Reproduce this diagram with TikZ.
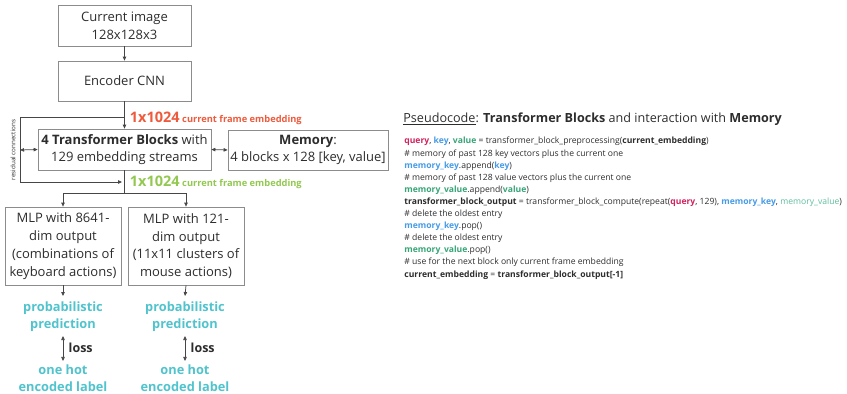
\documentclass[tikz,border=0pt]{standalone}
\usepackage{fontspec}
\setmainfont{Open Sans}
\usetikzlibrary{arrows.meta}

\definecolor{boxgray}{RGB}{140,140,140}
\definecolor{linegray}{RGB}{70,70,70}
\definecolor{txtgray}{RGB}{45,45,45}
\definecolor{embred}{RGB}{238,90,60}
\definecolor{embgreen}{RGB}{146,200,80}
\definecolor{predteal}{RGB}{80,195,205}
\definecolor{qred}{RGB}{210,35,95}
\definecolor{kblue}{RGB}{70,155,230}
\definecolor{vgreen}{RGB}{55,165,120}
\definecolor{vlight}{RGB}{95,190,155}

\tikzset{every picture/.style={line width=0.75pt}}

\begin{document}
\begin{tikzpicture}[x=1pt,y=1pt,yscale=-1,xscale=1,
	box/.style={draw=boxgray,fill=white,align=center,inner sep=0pt,text=txtgray,font=\fontsize{13}{17.8}\selectfont},
	conn/.style={draw=linegray,-{Triangle[length=4pt,width=3.5pt]}},
	biconn/.style={draw=linegray,{Triangle[length=4pt,width=3.5pt]}-{Triangle[length=4pt,width=3.5pt]}},
	pred/.style={align=center,inner sep=0pt,text=predteal,font=\fontsize{12.8}{17.5}\selectfont\bfseries}]
		\useasboundingbox (0,0) rectangle (847,394);
		
		%Shape: Rectangle [id:img] 
		\node (img) [box,minimum width=133,minimum height=41] at (124.5,25.5) {Current image\\128x128x3};
		%Shape: Rectangle [id:enc] 
		\node (enc) [box,minimum width=133,minimum height=40] at (124.5,81) {Encoder CNN};
		%Shape: Rectangle [id:trf] 
		\node (trf) [box,minimum width=173,minimum height=41] at (124.5,149.5) {\textbf{4 Transformer Blocks} with\\129 embedding streams};
		%Shape: Rectangle [id:mem] 
		\node (mem) [box,minimum width=160,minimum height=40] at (308,150) {\textbf{Memory}:\\4 blocks x 128 [key, value]};
		%Shape: Rectangle [id:mlpkey] 
		\node (mlpkey) [box,minimum width=116,minimum height=78] at (63,246) {MLP with 8641-\\dim output\\(combinations of\\keyboard actions)};
		%Shape: Rectangle [id:mlpmouse] 
		\node (mlpmouse) [box,minimum width=116,minimum height=78] at (186,246) {MLP with 121-\\dim output\\(11x11 clusters of\\mouse actions)};
		
		% Coordinates
		\coordinate (restop) at (124.5,117);
		\coordinate (resleft) at (20,150);
		\coordinate (resbot) at (122,182);
		\coordinate (split) at (124.5,193);
		\coordinate (predkeytop) at (63,296);
		\coordinate (predmousetop) at (185,296);
		
		%Straight Lines
		\draw [conn] (img) -- (enc);
		\draw [conn] (enc) -- (trf);
		\draw [conn] (restop) -- (20,117) -- (20,182) -- (resbot);
		\draw [biconn] (resleft) -- (trf.west);
		\draw [biconn] (trf.east) -- (mem.west);
		\draw [draw=linegray] (trf.south) -- (split);
		\draw [conn] (split) -| (mlpkey.north);
		\draw [conn] (split) -| (mlpmouse.north);
		\draw [conn] (mlpkey.south) -- (predkeytop);
		\draw [conn] (mlpmouse.south) -- (predmousetop);
		
		% Text Node
		\node (resid) [rotate=90,inner sep=0pt,text=txtgray,font=\fontsize{6.3}{7}\selectfont] at (13,150) {residual connections};
		% Text Node
		\node (embin) [anchor=west,inner sep=0pt,text=embred,font=\bfseries] at (129.5,118) {{\fontsize{14.5}{16}\selectfont 1x1024} {\fontsize{9.3}{11}\selectfont current frame embedding}};
		% Text Node
		\node (embout) [anchor=west,inner sep=0pt,text=embgreen,font=\bfseries] at (129.5,182.5) {{\fontsize{14.5}{16}\selectfont 1x1024} {\fontsize{9.3}{11}\selectfont current frame embedding}};
		
		% Text Node
		\node (predkey) [pred] at (63,316.5) {probabilistic\\prediction};
		% Text Node
		\node (predmouse) [pred] at (185,316.5) {probabilistic\\prediction};
		% Text Node
		\node (lblkey) [pred] at (63,378) {one hot\\encoded label};
		% Text Node
		\node (lblmouse) [pred] at (185,378) {one hot\\encoded label};
		
		\draw [biconn,shorten <=4pt,shorten >=3pt] (predkey) -- (lblkey) node [midway,right=2pt,text=txtgray,font=\fontsize{12.5}{14}\selectfont\bfseries] {loss};
		\draw [biconn,shorten <=4pt,shorten >=3pt] (predmouse) -- (lblmouse) node [midway,right=2pt,text=txtgray,font=\fontsize{12.5}{14}\selectfont\bfseries] {loss};
		
		% Text Node
		\node (title) [anchor=west,inner sep=0pt,text=txtgray,font=\fontsize{12.6}{14}\selectfont] at (403,119) {\underline{Pseudocode}: \textbf{Transformer Blocks} and interaction with \textbf{Memory}};
		% Text Node
		\node (code) [anchor=north west,align=left,inner sep=0pt,text=txtgray,font=\fontsize{8.6}{12.1}\selectfont] at (404,137) {%
\textcolor{qred}{\textbf{query}}, \textcolor{kblue}{\textbf{key}}, \textcolor{vgreen}{\textbf{value}} = transformer\_block\_preprocessing(\textbf{current\_embedding})\\
\# memory of past 128 key vectors plus the current one\\
\textcolor{kblue}{\textbf{memory\_key}}.append(\textcolor{kblue}{\textbf{key}})\\
\# memory of past 128 value vectors plus the current one\\
\textcolor{vgreen}{\textbf{memory\_value}}.append(\textcolor{vgreen}{\textbf{value}})\\
\textbf{transformer\_block\_output} = transformer\_block\_compute(repeat(\textcolor{qred}{\textbf{query}}, 129), \textcolor{kblue}{\textbf{memory\_key}}, \textcolor{vlight}{memory\_value})\\
\# delete the oldest entry\\
\textcolor{kblue}{\textbf{memory\_key}}.pop()\\
\# delete the oldest entry\\
\textcolor{vgreen}{\textbf{memory\_value}}.pop()\\
\# use for the next block only current frame embedding\\
\textbf{current\_embedding} = \textbf{transformer\_block\_output[-1]}};
		
	\end{tikzpicture}
\end{document}
